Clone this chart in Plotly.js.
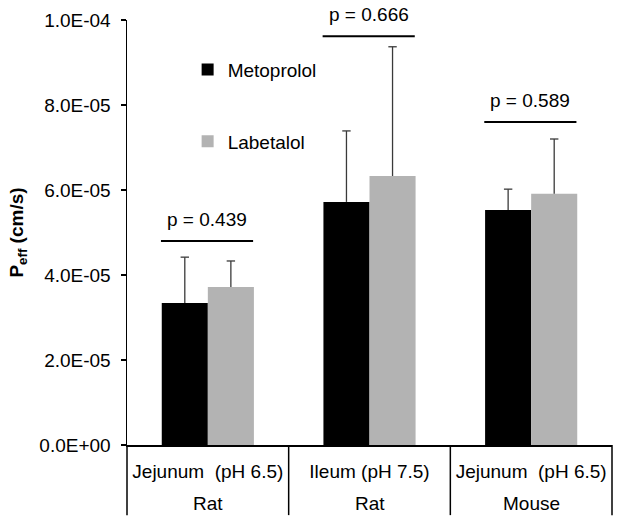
<!DOCTYPE html>
<html>
<head>
<meta charset="utf-8">
<script src="https://cdn.plot.ly/plotly-3.0.1.min.js"></script>
<style>html,body{margin:0;padding:0;background:#fff;}</style>
</head>
<body>
<div id="chart" style="width:624px;height:523px;"></div>
<script>
// ---- data ----
const regions = ["Jejunum\u00a0\u00a0(pH 6.5)", "Ileum (pH 7.5)", "Jejunum\u00a0\u00a0(pH 6.5)"];
const species = ["Rat", "Rat", "Mouse"];
const metoprolol = [3.34e-5, 5.72e-5, 5.53e-5];
const metoprololSD = [1.08e-5, 1.67e-5, 0.49e-5];
const labetalol = [3.72e-5, 6.33e-5, 5.91e-5];
const labetalolSD = [0.61e-5, 3.04e-5, 1.29e-5];
const pValues = ["p = 0.439", "p = 0.666", "p = 0.589"];
const pLevel = [4.8e-5, 9.62e-5, 7.6e-5];
const yTickVals = [0, 2e-5, 4e-5, 6e-5, 8e-5, 1e-4];
const yTickText = ["0.0E+00", "2.0E-05", "4.0E-05", "6.0E-05", "8.0E-05", "1.0E-04"];

const FONT = "Liberation Sans, Arial, sans-serif";
const FS = 19;
const xpos = regions.map((_, i) => i);
const ERRC = "#3a3a3a";

function errTrace(vals, sd) {
  return {
    type: "bar", x: xpos, y: vals, showlegend: false, hoverinfo: "skip",
    marker: {color: "rgba(0,0,0,0)"},
    error_y: {type: "data", symmetric: false, array: sd, arrayminus: sd.map(() => 0),
              color: ERRC, thickness: 1.3, width: 0}
  };
}

const traces = [
  {type: "bar", name: "Metoprolol", x: xpos, y: metoprolol, marker: {color: "#000000"}, legendgroup: "a"},
  {type: "bar", name: "Labetalol", x: xpos, y: labetalol, marker: {color: "#b3b3b3"}, legendgroup: "b"},
];

const layout = {
  width: 624, height: 523,
  margin: {l: 127, r: 12, t: 20, b: 78},
  paper_bgcolor: "#fff", plot_bgcolor: "#fff",
  font: {family: FONT, size: FS, color: "#000"},
  barmode: "group", bargap: 0.43, bargroupgap: 0,
  showlegend: true,
  legend: {x: 0.125, xanchor: "left", y: 0.928, yanchor: "top", bgcolor: "rgba(0,0,0,0)",
           traceorder: "grouped", tracegroupgap: 44, font: {family: FONT, size: FS, color: "#000"}},
  xaxis: {
    range: [-0.5, 2.5], tickvals: xpos, ticktext: regions, ticks: "", showgrid: false, zeroline: false,
    showline: true, linecolor: "#000", linewidth: 1.5, ticklabelstandoff: 9,
    tickfont: {family: FONT, size: FS, color: "#000"}
  },
  yaxis: {
    range: [0, 1e-4], tickvals: yTickVals, ticktext: yTickText, ticks: "outside", ticklen: 5,
    tickcolor: "#000", tickwidth: 1.5, showgrid: false, zeroline: false,
    showline: true, linecolor: "#000", linewidth: 1.5, ticklabelstandoff: 6,
    tickfont: {family: FONT, size: FS, color: "#000"},
    title: {text: "<b>P<sub>eff</sub> (cm/s)</b>", font: {family: FONT, size: FS, color: "#000"}, standoff: 10}
  },
  shapes: [],
  annotations: []
};

// error bars: a bar-shaped carrier so they sit at bar positions, drawn above the bars
// (we overlay transparent bars in the same group order)
const errM = errTrace(metoprolol, metoprololSD);
const errL = errTrace(labetalol, labetalolSD);
// put error bars directly on the visible bars with no caps, caps added separately
traces[0].error_y = errM.error_y;
traces[1].error_y = errL.error_y;

const barOffset = 0.5 * (1 - layout.bargap) / 2;
// cap markers at the top of each error bar
traces.push({
  type: "scatter", mode: "markers", showlegend: false, hoverinfo: "skip",
  x: xpos.map(v => v - barOffset), y: metoprolol.map((v, i) => v + metoprololSD[i]),
  marker: {symbol: "line-ew", size: 6, line: {color: ERRC, width: 1.3}}
});
traces.push({
  type: "scatter", mode: "markers", showlegend: false, hoverinfo: "skip",
  x: xpos.map(v => v + barOffset), y: labetalol.map((v, i) => v + labetalolSD[i]),
  marker: {symbol: "line-ew", size: 6, line: {color: ERRC, width: 1.3}}
});

pValues.forEach((p, i) => {
  layout.shapes.push({type: "line", xref: "x", yref: "y", x0: i - 0.29, x1: i + 0.28, y0: pLevel[i], y1: pLevel[i],
               line: {color: "#000", width: 2}});
  layout.annotations.push({xref: "x", yref: "y", x: i - 0.005, y: pLevel[i], text: p, showarrow: false,
                    yanchor: "bottom", yshift: 9, font: {family: FONT, size: FS, color: "#000"}});
});
[0, 1, 2, 3].forEach(k => {
  layout.shapes.push({type: "line", xref: "paper", yref: "paper", x0: k / 3, x1: k / 3, y0: 0, y1: -0.165,
               line: {color: "#000", width: 1.5}});
});
species.forEach((s, i) => {
  layout.annotations.push({xref: "x", yref: "paper", x: i, y: -0.1365, text: s, showarrow: false,
                    yanchor: "middle", font: {family: FONT, size: FS, color: "#000"}});
});

Plotly.newPlot("chart", traces, layout, {staticPlot: true, displayModeBar: false});
</script>
</body>
</html>
